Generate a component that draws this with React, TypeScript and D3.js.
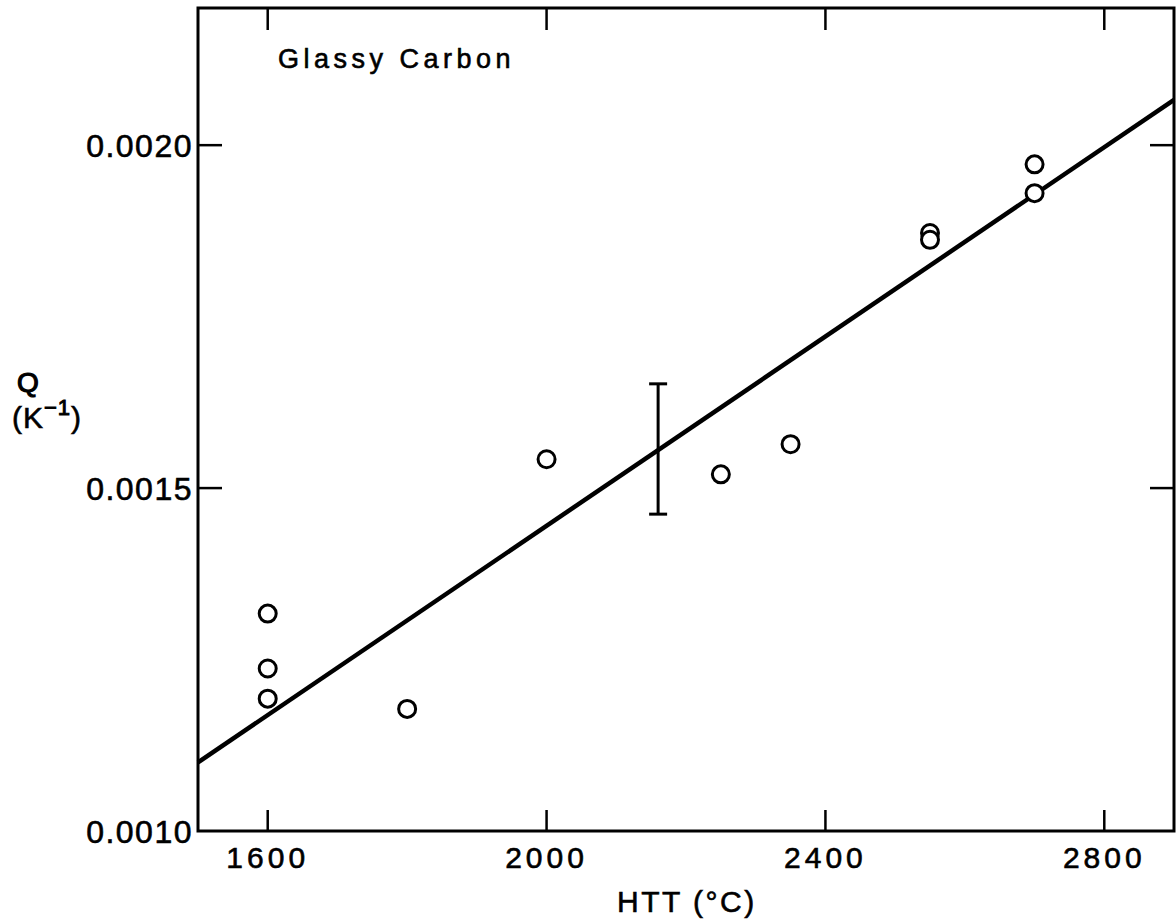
import React from "react";
import * as d3 from "d3";

// ---- data ----
const htt = [1600, 1600, 1600, 1800, 2000, 2250, 2350, 2550, 2550, 2700, 2700];
const qValues = [0.001317, 0.001237, 0.001193, 0.001178, 0.001542, 0.00152, 0.001564, 0.001872, 0.001862, 0.001972, 0.00193];
const fitHTT = [1500, 2900];
const fitQ = [0.0011, 0.002066];
const errorBarHTT = 2160;
const errorBarLow = 0.001462;
const errorBarHigh = 0.001652;
const xTicks = [1600, 2000, 2400, 2800];
const yTicks = [0.001, 0.0015, 0.002];
const yTickLabels = ["0.0010", "0.0015", "0.0020"];
const xDomain = [1500, 2900];
const yDomain = [0.001, 0.0022];

const W = 1176;
const H = 921;
const left = 198;
const right = 1174;
const top = 8;
const bottom = 831;

export default function App() {
  const x = d3.scaleLinear().domain(xDomain).range([left, right]);
  const y = d3.scaleLinear().domain(yDomain).range([bottom, top]);
  const line = d3
    .line<number>()
    .x((d) => x(fitHTT[d]))
    .y((d) => y(fitQ[d]));
  const font = "'Liberation Sans', Arial, sans-serif";
  const capHalf = 9;
  const textStroke = { stroke: "#000", strokeWidth: 0.6 };

  return (
    <svg
      width={W}
      height={H}
      style={{ position: "absolute", left: 0, top: 0, background: "#fff" }}
    >
      <rect x={0} y={0} width={W} height={H} fill="#fff" />
      {/* frame */}
      <rect
        x={left}
        y={top}
        width={right - left}
        height={bottom - top}
        fill="none"
        stroke="#000"
        strokeWidth={3}
      />
      {/* x ticks bottom & top */}
      {xTicks.map((t) => (
        <g key={"xt" + t}>
          <line x1={x(t)} x2={x(t)} y1={bottom} y2={bottom - 21} stroke="#000" strokeWidth={2.5} />
          <line x1={x(t)} x2={x(t)} y1={top} y2={top + 22} stroke="#000" strokeWidth={2.5} />
          <text
            x={x(t)}
            y={868}
            textAnchor="middle"
            fontFamily={font}
            fontSize={30}
            letterSpacing={4}
            fill="#000"
            {...textStroke}
          >
            {t}
          </text>
        </g>
      ))}
      {/* y ticks left & right */}
      {yTicks.map((t, i) => (
        <g key={"yt" + t}>
          {i > 0 && (
            <>
              <line x1={left} x2={left + 24} y1={y(t)} y2={y(t)} stroke="#000" strokeWidth={2.5} />
              <line x1={right} x2={right - 24} y1={y(t)} y2={y(t)} stroke="#000" strokeWidth={2.5} />
            </>
          )}
          <text
            x={193}
            y={y(t) + 12}
            textAnchor="end"
            fontFamily={font}
            fontSize={32}
            letterSpacing={1.5}
            fill="#000"
            {...textStroke}
          >
            {yTickLabels[i]}
          </text>
        </g>
      ))}
      {/* fit line */}
      <path d={line([0, 1]) || ""} fill="none" stroke="#000" strokeWidth={4.5} />
      {/* error bar */}
      <g stroke="#000" strokeWidth={3}>
        <line x1={x(errorBarHTT)} x2={x(errorBarHTT)} y1={y(errorBarLow)} y2={y(errorBarHigh)} />
        <line
          x1={x(errorBarHTT) - capHalf}
          x2={x(errorBarHTT) + capHalf}
          y1={y(errorBarLow)}
          y2={y(errorBarLow)}
        />
        <line
          x1={x(errorBarHTT) - capHalf}
          x2={x(errorBarHTT) + capHalf}
          y1={y(errorBarHigh)}
          y2={y(errorBarHigh)}
        />
      </g>
      {/* points */}
      {htt.map((h, i) => (
        <circle
          key={"p" + i}
          cx={x(h)}
          cy={y(qValues[i])}
          r={8.5}
          fill="#fff"
          stroke="#000"
          strokeWidth={3}
        />
      ))}
      {/* annotation */}
      <text x={278} y={68} fontFamily={font} fontSize={27} letterSpacing={4.5} fill="#000" {...textStroke}>
        Glassy Carbon
      </text>
      {/* axis titles */}
      <text x={617} y={912} fontFamily={font} fontSize={30} letterSpacing={2.5} fill="#000" {...textStroke}>
        HTT (°C)
      </text>
      <text x={17} y={392} fontFamily={font} fontSize={28} fill="#000" stroke="#000" strokeWidth={1.2}>
        Q
      </text>
      <text x={12} y={428} fontFamily={font} fontSize={30} letterSpacing={1} fill="#000" {...textStroke}>
        (K
        <tspan dy={-13} fontSize={22} stroke="#000" strokeWidth={1}>
          −1
        </tspan>
        <tspan dy={13}>)</tspan>
      </text>
    </svg>
  );
}
